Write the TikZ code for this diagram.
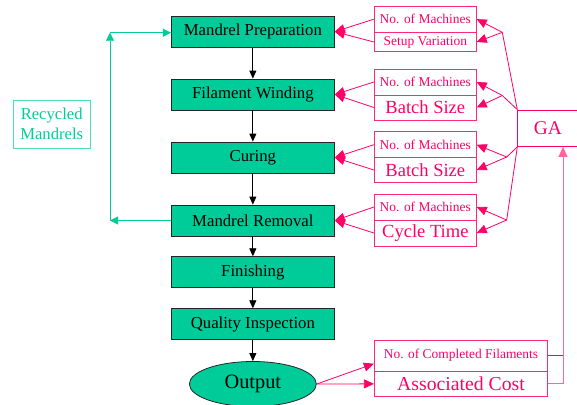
\documentclass[tikz,border=0pt]{standalone}
\usepackage{fontspec}
\setmainfont{Liberation Serif}
\usetikzlibrary{shapes.geometric}
\usetikzlibrary{arrows.meta}
\usetikzlibrary{calc}
\tikzset{>={Triangle[length=8bp,width=7bp]}}
\definecolor{procgreen}{RGB}{0,204,153}
\definecolor{recycle}{RGB}{0,204,153}
\definecolor{gapink}{RGB}{255,0,102}
\definecolor{gaedge}{RGB}{255,40,120}
\definecolor{galight}{RGB}{255,102,153}

\begin{document}
\begin{tikzpicture}[x=1bp,y=-1bp,line width=0.8bp,
    proc/.style={draw=black!85,fill=procgreen,minimum width=163bp,minimum height=31bp,inner sep=0pt,font=\fontsize{16.8}{18}\selectfont},
    parbox/.style={draw=gaedge,text=gapink,minimum width=102bp,inner sep=0pt},
    smalltxt/.style={font=\fontsize{13.5}{15}\selectfont},
    bigtxt/.style={font=\fontsize{18.6}{20}\selectfont},
    garrow/.style={->,draw=gapink,>={Triangle[length=10bp,width=9bp]}},
    recyc/.style={->,draw=recycle,>={Triangle[length=8bp,width=8bp]}}]
    \clip (0,0) rectangle (577,404);

    % process chain
    \node[proc] (prep) at (252.85,31.7) {Mandrel Preparation};
    \node[proc] (wind) at (252.85,94.5) {Filament Winding};
    \node[proc] (cure) at (252.85,157.5) {Curing};
    \node[proc] (remove) at (252.85,220.5) {Mandrel Removal};
    \node[proc] (finish) at (252.85,272.2) {Finishing};
    \node[proc] (inspect) at (252.85,324.2) {Quality Inspection};
    \node[ellipse,draw=black!85,fill=procgreen,minimum width=127bp,minimum height=45bp,inner sep=0pt,font=\fontsize{20.4}{22}\selectfont] (out) at (252.85,384) {Output};
    \foreach \a/\b in {prep/wind,wind/cure,cure/remove,remove/finish,finish/inspect,inspect/out} {
      \draw[->] (\a.south) -- (\b.north);
    }

    % recycled mandrels loop
    \node[draw=recycle!70,text=recycle,align=center,minimum width=76.7bp,minimum height=48.3bp,inner sep=0pt,font=\fontsize{16.7}{20}\selectfont] (recycled) at (51.7,124.2) {Recycled\\Mandrels};
    \coordinate (loopbot) at (110,220.5);
    \coordinate (looptop) at (110,32.7);
    \draw[recyc] (remove.west) -- (loopbot);
    \draw[recyc] (loopbot) -- (looptop);
    \draw[recyc] (looptop) -- (prep.west |- looptop);

    % GA box
    \node[draw=gapink,text=gapink,minimum width=60.3bp,minimum height=36.5bp,inner sep=0pt,font=\fontsize{19.5}{21}\selectfont] (ga) at (547.85,128.25) {GA};

    % parameters set by the GA
    \foreach \p/\n/\yt/\yb/\hb/\txt/\fnt/\bx/\by/\corner in {
        prep/1/19.15/42/19.4/Setup Variation/smalltxt/502.3/32.3/north west,
        wind/2/82/107.5/25/Batch Size/bigtxt/502.3/95.5/north west,
        cure/3/144.7/170/24.6/Batch Size/bigtxt/506.7/157/south west,
        remove/4/207/233/26/Cycle Time/bigtxt/506.7/220/south west} {
      \node[parbox,smalltxt,minimum height=26bp] (mach\n) at (425.3,\yt) {No. of Machines};
      \node[parbox,\fnt,minimum height=\hb bp] (var\n) at (425.3,\yb) {\txt};
      \coordinate (branch\n) at (\bx,\by);
      \draw[gapink] (ga.\corner) -- (branch\n);
      \draw[garrow] (branch\n) -- (mach\n.east);
      \draw[garrow] (branch\n) -- (var\n.east);
      \draw[garrow] (mach\n.west) -- (\p.east);
      \draw[garrow] (var\n.west) -- (\p.east);
    }

    % output measures
    \node[parbox,smalltxt,minimum width=173.4bp,minimum height=31bp] (filaments) at (461,355.5) {No. of Completed Filaments};
    \node[parbox,font=\fontsize{19.8}{21}\selectfont,minimum width=173.4bp,minimum height=25.7bp] (cost) at (461,383.85) {Associated Cost};
    \draw[garrow] (out.east) -- ($(filaments.south west)+(0,-7.7)$);
    \draw[garrow] (out.east) -- (cost.west);
    \coordinate (rise) at ([xshift=15.15bp]ga.south);
    \draw[gapink] (filaments.east) -- (filaments.east -| rise);
    \draw[->,draw=galight,>={Triangle[length=10bp,width=9bp]}] (cost.east) -| (rise);
\end{tikzpicture}
\end{document}
